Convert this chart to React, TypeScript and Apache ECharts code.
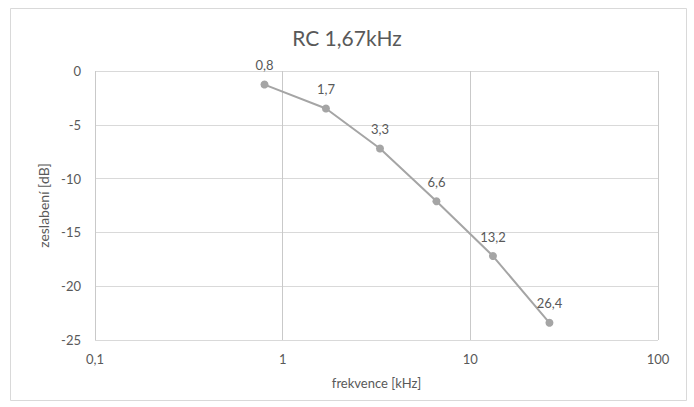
import React, { useEffect, useRef } from "react";
import * as echarts from "echarts";

const frequencies = [0.8, 1.7, 3.3, 6.6, 13.2, 26.4];
const attenuation = [-1.26, -3.49, -7.2, -12.1, -17.2, -23.4];
const titleText = "RC 1,67kHz";
const xName = "frekvence [kHz]";
const yName = "zeslabení [dB]";

const FONT = "Lato, 'Open Sans', sans-serif";
const TXT = "#595959";

export default function App() {
  const ref = useRef<HTMLDivElement>(null);
  useEffect(() => {
    if (!ref.current) return;
    const chart = echarts.init(ref.current, undefined, { renderer: "svg" });
    const comma = (v: number) => String(v).replace(".", ",");
    chart.setOption({
      animation: false,
      backgroundColor: "#ffffff",
      textStyle: { fontFamily: FONT },
      title: {
        text: titleText,
        left: "center",
        top: 22,
        textStyle: { fontFamily: FONT, fontSize: 21, fontWeight: "normal", color: TXT },
      },
      graphic: [
        {
          type: "rect",
          shape: { x: 10.5, y: 8.5, width: 676, height: 392 },
          style: { fill: "none", stroke: "#d9d9d9", lineWidth: 1 },
          silent: true,
        },
      ],
      grid: { left: 95, right: 36, top: 71, bottom: 67 },
      xAxis: {
        type: "log",
        logBase: 10,
        min: 0.1,
        max: 100,
        name: xName,
        nameLocation: "middle",
        nameGap: 36,
        nameTextStyle: { fontFamily: FONT, fontSize: 13, color: TXT },
        axisLine: { show: false },
        axisTick: { show: false },
        minorTick: { show: false },
        axisLabel: {
          fontFamily: FONT,
          fontSize: 13,
          color: TXT,
          margin: 12,
          formatter: (v: number) => comma(v),
        },
        splitLine: { show: true, lineStyle: { color: "#c9c9c9", width: 1 } },
      },
      yAxis: {
        type: "value",
        min: -25,
        max: 0,
        interval: 5,
        name: yName,
        nameLocation: "middle",
        nameGap: 40,
        nameTextStyle: { fontFamily: FONT, fontSize: 14, color: TXT },
        axisLine: { show: false },
        axisTick: { show: false },
        axisLabel: { fontFamily: FONT, fontSize: 13, color: TXT, margin: 14 },
        splitLine: { show: true, lineStyle: { color: "#d9d9d9", width: 1 } },
      },
      series: [
        {
          type: "line",
          data: frequencies.map((f, i) => [f, attenuation[i]]),
          symbol: "circle",
          symbolSize: 8,
          lineStyle: { color: "#a5a5a5", width: 2 },
          itemStyle: { color: "#a5a5a5" },
          label: {
            show: true,
            position: "top",
            distance: 9,
            fontFamily: FONT,
            fontSize: 13,
            color: TXT,
            formatter: (p: any) => comma(p.value[0]),
          },
        },
      ],
    });
    return () => chart.dispose();
  }, []);
  return (
    <div
      ref={ref}
      style={{ position: "fixed", left: 0, top: 0, width: 694, height: 407 }}
    />
  );
}
